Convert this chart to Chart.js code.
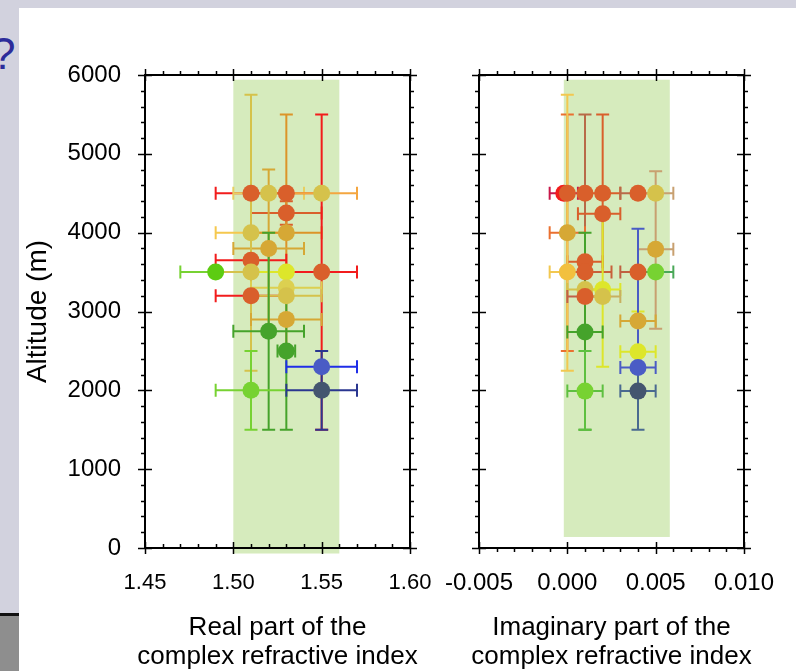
<!DOCTYPE html>
<html>
<head>
<meta charset="utf-8">
<script src="https://cdn.jsdelivr.net/npm/chart.js@4.4.1/dist/chart.umd.min.js"></script>
<style>
  html, body { margin: 0; padding: 0; }
  body { width: 796px; height: 671px; position: relative; overflow: hidden; background: #d2d2de; font-family: "Liberation Sans", Arial, sans-serif; }
  #sheet { position: absolute; left: 19px; top: 8px; right: 0; bottom: 0; background: #fff; }
  #qmark { position: absolute; left: -9px; top: 32px; font-size: 44px; color: #2c2c9a; line-height: 1; }
  #sideBar { position: absolute; left: 0; top: 613px; width: 19px; height: 58px; background: #8e8e8e; border-top: 3px solid #111; box-sizing: border-box; }
  canvas { position: absolute; top: 0; }
  #realChart { left: 0; }
  #imagChart { left: 440px; }
</style>
</head>
<body>
<div id="sheet"></div>
<div id="qmark">?</div>
<div id="sideBar"></div>
<canvas id="realChart" width="440" height="671"></canvas>
<canvas id="imagChart" width="356" height="671"></canvas>
<script>
// colours used for the retrievals
const RO = '#d95f2b', RED = '#f21c1c', MUS = '#d5c24b', MUS2 = '#d6a835', ORG = '#dc9428',
      YEL = '#dde62a', PALE = '#dcd050', YO = '#f2c03e', GRN = '#45a32b', LGRN = '#77d232',
      BGRN = '#5dcc12', BLUE = '#4a5cc5', SLATE = '#44556f';

// real part of the refractive index
const realX      = [1.51, 1.52, 1.53, 1.55, 1.53, 1.51, 1.53, 1.52, 1.51, 1.49, 1.51, 1.53, 1.55, 1.53, 1.51, 1.53, 1.53, 1.52, 1.53, 1.55, 1.51, 1.55];
const realAlt    = [4500, 4500, 4500, 4500, 4250, 4000, 4000, 3800, 3650, 3500, 3500, 3500, 3500, 3300, 3200, 3200, 2900, 2750, 2500, 2300, 2000, 2000];
const realXLo    = [1.49, 1.50, 1.51, 1.53, 1.51, 1.49, 1.51, 1.50, 1.49, 1.47, 1.49, 1.51, 1.53, 1.51, 1.49, 1.51, 1.51, 1.50, 1.525, 1.53, 1.49, 1.53];
const realXHi    = [1.53, 1.54, 1.55, 1.57, 1.55, 1.53, 1.55, 1.54, 1.53, 1.51, 1.53, 1.55, 1.57, 1.55, 1.53, 1.55, 1.55, 1.54, 1.535, 1.57, 1.53, 1.57];
const realAltLo  = [4500, 4500, 4500, 4500, 4100, 4000, 2500, 2800, 3650, 3500, 2250, 3500, 1500, 3300, 3200, 3200, 2900, 1500, 1500, 2300, 1500, 1500];
const realAltHi  = [4500, 4500, 4500, 4500, 4400, 4000, 5500, 4800, 3650, 3500, 5750, 3500, 5500, 3300, 3200, 3200, 2900, 4000, 3500, 2300, 2500, 2500];
const realColors = [RO, MUS, RO, MUS, RO, MUS, MUS2, MUS2, RO, BGRN, MUS, YEL, RO, PALE, RO, MUS, MUS2, GRN, GRN, BLUE, LGRN, SLATE];
const realBarColors = [RED, '#e8cf60', RO, '#f4a640', RO, '#f5c84e', ORG, MUS2, RED, LGRN, MUS, YEL, RED, PALE, RED, MUS, MUS2, GRN, GRN, '#1f2ee8', LGRN, '#2a3690'];
const realBand    = [1.50, 1.56];
const realBandAlt = [-70, 5940];

// imaginary part of the refractive index
const imagX      = [-0.0002, 0.000, 0.001, 0.002, 0.004, 0.005, 0.002, 0.000, 0.005, 0.001, 0.000, 0.001, 0.004, 0.005, 0.001, 0.002, 0.001, 0.002, 0.004, 0.001, 0.004, 0.004, 0.001, 0.004];
const imagAlt    = [4500, 4500, 4500, 4500, 4500, 4500, 4240, 4000, 3790, 3630, 3500, 3500, 3500, 3500, 3280, 3280, 3190, 3190, 2880, 2740, 2490, 2290, 1990, 1990];
const imagXLo    = [-0.001, 0.000, 0.001, 0.001, 0.003, 0.004, 0.0006, -0.001, 0.004, 0.000, -0.001, 0.000, 0.003, 0.004, 0.000, 0.001, 0.000, 0.001, 0.003, 0.000, 0.003, 0.003, 0.000, 0.003];
const imagXHi    = [0.0006, 0.000, 0.001, 0.003, 0.005, 0.006, 0.003, 0.001, 0.006, 0.002, 0.001, 0.0025, 0.005, 0.006, 0.002, 0.003, 0.002, 0.003, 0.005, 0.002, 0.005, 0.005, 0.002, 0.005];
const imagAltLo  = [4500, 4500, 3500, 3500, 4500, 4500, 4240, 2500, 2780, 3630, 2250, 3500, 3500, 3500, 3280, 2300, 3190, 3190, 2880, 1500, 2000, 2290, 1500, 1500];
const imagAltHi  = [4500, 4500, 5500, 5500, 4500, 4500, 4240, 5500, 4780, 3630, 5750, 3500, 3500, 3500, 3280, 4280, 3190, 3190, 2880, 4000, 3000, 4050, 2500, 2500];
const imagColors = [RED, RO, RO, RO, RO, MUS, RO, MUS2, MUS2, RO, YO, RO, RO, LGRN, MUS, YEL, RO, MUS, MUS2, GRN, YEL, BLUE, LGRN, SLATE];
const imagBarColors = ['#c8184a', '#d9823a', '#b86a48', RO, '#b86a48', '#c8a070', RO, '#ea7030', '#c8a070', RO, '#f2c850', '#c8603a', '#c06040', '#4aa858', MUS, YEL, '#c0604a', '#c8b060', MUS2, GRN, YEL, BLUE, '#5ec040', '#4a6a90'];
const imagBand    = [-0.0002, 0.0058];
const imagBandAlt = [140, 5940];

Chart.defaults.font.family = '"Liberation Sans", Arial, sans-serif';
Chart.defaults.color = '#000';

// green band behind the points, then the error bars
const bandAndBars = {
  id: 'bandAndBars',
  beforeDatasetsDraw(chart) {
    const {ctx, scales: {x, y}} = chart;
    const ds = chart.data.datasets[0];
    ctx.save();
    const bx0 = x.getPixelForValue(ds.band[0]), bx1 = x.getPixelForValue(ds.band[1]);
    const by0 = y.getPixelForValue(ds.bandAlt[1]), by1 = y.getPixelForValue(ds.bandAlt[0]);
    ctx.fillStyle = '#d6ebbd';
    ctx.fillRect(bx0, by0, bx1 - bx0, by1 - by0);

    ctx.lineWidth = 2;
    const cap = 6.5;
    ds.data.forEach((p, i) => {
      ctx.strokeStyle = ds.barColors[i];
      const px = x.getPixelForValue(p.x), py = y.getPixelForValue(p.y);
      if (ds.xLo[i] !== ds.xHi[i]) {
        const l = x.getPixelForValue(ds.xLo[i]), r = x.getPixelForValue(ds.xHi[i]);
        ctx.beginPath();
        ctx.moveTo(l, py); ctx.lineTo(r, py);
        ctx.moveTo(l, py - cap); ctx.lineTo(l, py + cap);
        ctx.moveTo(r, py - cap); ctx.lineTo(r, py + cap);
        ctx.stroke();
      }
      if (ds.yLo[i] !== ds.yHi[i]) {
        const b = y.getPixelForValue(ds.yLo[i]), t = y.getPixelForValue(ds.yHi[i]);
        ctx.beginPath();
        ctx.moveTo(px, b); ctx.lineTo(px, t);
        ctx.moveTo(px - cap, b); ctx.lineTo(px + cap, b);
        ctx.moveTo(px - cap, t); ctx.lineTo(px + cap, t);
        ctx.stroke();
      }
    });
    ctx.restore();
  }
};

// boxed frame with ticks on all four sides, plus the two-line x title
const frame = {
  id: 'frame',
  afterDraw(chart) {
    const {ctx, chartArea: a, scales: {x, y}} = chart;
    const bottomIn = chart.canvas.id === 'realChart';
    ctx.save();
    ctx.strokeStyle = '#000';
    ctx.lineWidth = 1.5;
    ctx.beginPath();
    x.ticks.forEach(t => {
      const px = Math.round(x.getPixelForValue(t.value)) + 0.5;
      if (t.label !== '') {
        ctx.moveTo(px, a.top - 6); ctx.lineTo(px, a.top + 6);
        ctx.moveTo(px, a.bottom - 6); ctx.lineTo(px, a.bottom + 6);
      } else {
        ctx.moveTo(px, a.top - 4); ctx.lineTo(px, a.top);
        ctx.moveTo(px, a.bottom); ctx.lineTo(px, bottomIn ? a.bottom - 4 : a.bottom + 4);
      }
    });
    y.ticks.forEach(t => {
      const py = Math.round(y.getPixelForValue(t.value)) + 0.5;
      if (t.value % 1000 === 0) {
        ctx.moveTo(a.left - 7, py); ctx.lineTo(a.left + 7, py);
        ctx.moveTo(a.right - 7, py); ctx.lineTo(a.right + 7, py);
      } else {
        ctx.moveTo(a.left - 4, py); ctx.lineTo(a.left, py);
        ctx.moveTo(a.right, py); ctx.lineTo(a.right + 4, py);
      }
    });
    ctx.stroke();
    ctx.lineWidth = 2;
    ctx.strokeRect(a.left, a.top, a.right - a.left, a.bottom - a.top);

    const lines = chart.options.plugins.frame.title;
    ctx.fillStyle = '#000';
    ctx.font = '26px "Liberation Sans", Arial, sans-serif';
    ctx.textAlign = 'center';
    ctx.textBaseline = 'middle';
    const cx = (a.left + a.right) / 2;
    lines.forEach((s, i) => ctx.fillText(s, cx, a.bottom + 80 + i * 29));
    ctx.restore();
  }
};

function makePanel(id, xs, alts, xLo, xHi, yLo, yHi, colors, barColors, band, bandAlt, xOpts) {
  return new Chart(document.getElementById(id), {
    type: 'scatter',
    data: {
      datasets: [{
        data: xs.map((v, i) => ({x: v, y: alts[i]})),
        xLo: xLo, xHi: xHi, yLo: yLo, yHi: yHi,
        barColors: barColors, band: band, bandAlt: bandAlt,
        pointBackgroundColor: colors,
        pointBorderWidth: 0,
        pointRadius: 8.5,
        pointHoverRadius: 8.5
      }]
    },
    options: {
      responsive: false,
      animation: false,
      layout: {padding: xOpts.padding},
      plugins: {legend: {display: false}, tooltip: {enabled: false}, frame: {title: xOpts.title}},
      scales: {
        x: {
          type: 'linear', min: xOpts.min, max: xOpts.max,
          grid: {display: false}, border: {display: false},
          ticks: {stepSize: xOpts.step, autoSkip: false, maxRotation: 0, padding: xOpts.tickPad,
                  font: {size: xOpts.tickSize}, callback: xOpts.label},
          afterFit(s) {
            // keep the plot box where the layout padding puts it
            s.height = 671 - 548;
            s.paddingLeft = 0;
            s.paddingRight = 0;
          }
        },
        y: {
          type: 'linear', min: 0, max: 6000, display: xOpts.showY,
          grid: {display: false}, border: {display: false},
          ticks: {stepSize: 200, autoSkip: false, padding: 16, font: {size: 24},
                  callback: v => (v % 1000 === 0 ? String(v) : '')},
          title: {display: true, text: 'Altitude (m)', font: {size: 28}, padding: {top: 21, bottom: 0}},
          afterFit(s) { s.width = xOpts.showY ? 145 : 0; }
        }
      }
    },
    plugins: [bandAndBars, frame]
  });
}

makePanel('realChart', realX, realAlt, realXLo, realXHi, realAltLo, realAltHi, realColors, realBarColors, realBand, realBandAlt, {
  min: 1.45, max: 1.60, step: 0.01, showY: true, tickSize: 22, tickPad: 14,
  padding: {top: 75, right: 30, left: 0, bottom: 0},
  title: ['Real part of the', 'complex refractive index'],
  label: v => (Math.round(v * 100) % 5 === 0 ? v.toFixed(2) : '')
});

makePanel('imagChart', imagX, imagAlt, imagXLo, imagXHi, imagAltLo, imagAltHi, imagColors, imagBarColors, imagBand, imagBandAlt, {
  min: -0.005, max: 0.010, step: 0.001, showY: false, tickSize: 24, tickPad: 13,
  padding: {top: 75, right: 52, left: 39, bottom: 0},
  title: ['Imaginary part of the', 'complex refractive index'],
  label: v => (Math.round(v * 1000) % 5 === 0 ? (Math.abs(v) < 1e-9 ? '0.000' : v.toFixed(3)) : '')
});
</script>
</body>
</html>
